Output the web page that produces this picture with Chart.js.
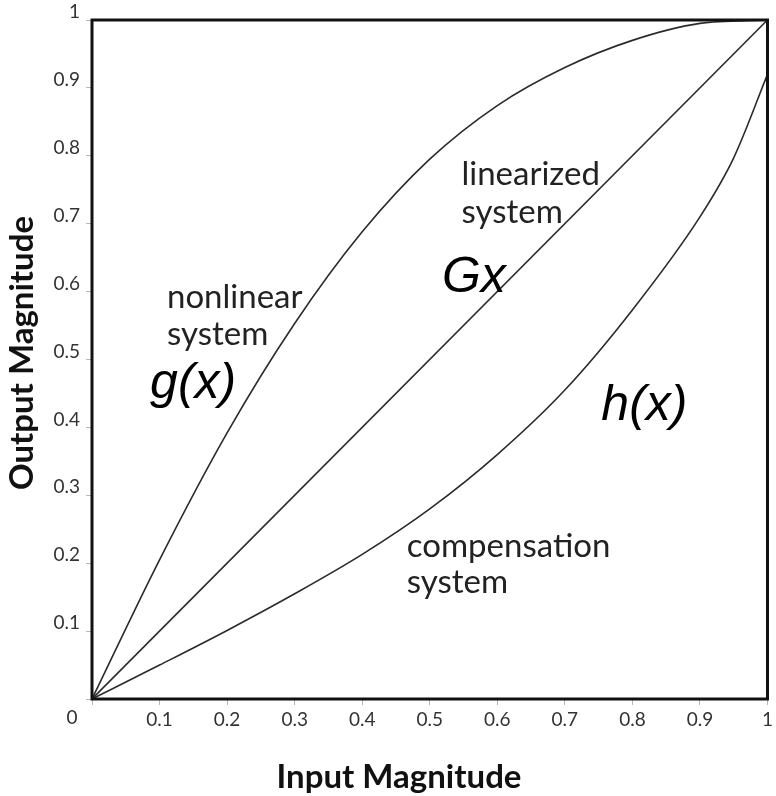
<!DOCTYPE html>
<html>
<head>
<meta charset="utf-8">
<script src="https://cdn.jsdelivr.net/npm/chart.js@4.4.1/dist/chart.umd.min.js"></script>
<style>
  body { margin: 0; background: #fff; }
  #grafica { display: block; }
</style>
</head>
<body>
<canvas id="grafica" width="776" height="796"></canvas>
<script>
// curvas: sistema no lineal g(x), linealizado Gx y compensacion h(x)
const entradaG = [0, 0.10, 0.20, 0.30, 0.40, 0.50, 0.60, 0.70, 0.80, 0.90, 1.0];
const salidaG  = [0, 0.205, 0.392, 0.553, 0.688, 0.795, 0.874, 0.930, 0.970, 0.995, 1.0];

const entradaLineal = [0, 1];
const salidaLineal  = [0, 1];

const entradaH = [0, 0.10, 0.20, 0.30, 0.40, 0.50, 0.60, 0.70, 0.80, 0.90, 0.95, 1.0];
const salidaH  = [0, 0.05, 0.101, 0.155, 0.213, 0.28, 0.36, 0.455, 0.573, 0.71, 0.797, 0.92];

const etiquetasTicks = ['0', '0.1', '0.2', '0.3', '0.4', '0.5', '0.6', '0.7', '0.8', '0.9', '1'];

const tituloX = 'Input Magnitude';
const tituloY = 'Output Magnitude';

// textos dentro de la grafica, anclados en coordenadas de datos
const notas = [
  { texto: 'nonlinear', x: 0.111, y: 0.576, tipo: 'normal' },
  { texto: 'system', x: 0.111, y: 0.521, tipo: 'normal' },
  { texto: 'g(x)', x: 0.086, y: 0.443, tipo: 'formula' },
  { texto: 'linearized', x: 0.547, y: 0.757, tipo: 'normal' },
  { texto: 'system', x: 0.547, y: 0.701, tipo: 'normal' },
  { texto: 'Gx', x: 0.518, y: 0.599, tipo: 'formula' },
  { texto: 'h(x)', x: 0.754, y: 0.411, tipo: 'formula' },
  { texto: 'compensation', x: 0.466, y: 0.209, tipo: 'normal' },
  { texto: 'system', x: 0.466, y: 0.156, tipo: 'normal' }
];

const aPuntos = (xs, ys) => xs.map((x, i) => ({ x: x, y: ys[i] }));

const estiloLinea = {
  showLine: true,
  borderColor: '#2b2b2b',
  borderWidth: 1.6,
  pointRadius: 0,
  fill: false
};

const marcoYTextos = {
  id: 'marcoYTextos',
  afterDatasetsDraw(chart) {
    const { ctx, chartArea, scales } = chart;
    ctx.save();

    // marco negro alrededor del area
    ctx.strokeStyle = '#111';
    ctx.lineWidth = 3;
    ctx.strokeRect(chartArea.left, chartArea.top,
      chartArea.right - chartArea.left, chartArea.bottom - chartArea.top);

    // notas
    ctx.textAlign = 'left';
    ctx.textBaseline = 'alphabetic';
    notas.forEach(n => {
      if (n.tipo === 'formula') {
        ctx.font = 'italic 50px "Liberation Sans", Arial, sans-serif';
        ctx.fillStyle = '#000';
      } else {
        ctx.font = '33px Lato, sans-serif';
        ctx.fillStyle = '#222';
      }
      ctx.fillText(n.texto, scales.x.getPixelForValue(n.x), scales.y.getPixelForValue(n.y));
    });

    // cero compartido en la esquina
    ctx.font = '19px Lato, sans-serif';
    ctx.fillStyle = '#333';
    ctx.textAlign = 'center';
    ctx.textBaseline = 'middle';
    ctx.fillText(etiquetasTicks[0], chartArea.left - 20, chartArea.bottom + 19);

    // titulos de los ejes
    ctx.font = 'bold 33px Lato, sans-serif';
    ctx.fillStyle = '#111';
    ctx.fillText(tituloX, 399, 777);
    ctx.translate(22, 353);
    ctx.rotate(-Math.PI / 2);
    ctx.fillText(tituloY, 0, 0);

    ctx.restore();
  }
};

const ejeComun = {
  type: 'linear',
  min: 0,
  max: 1,
  grid: {
    drawOnChartArea: false,
    tickLength: 6,
    color: '#b5b5b5',
    lineWidth: 1
  },
  border: { display: false },
  ticks: {
    stepSize: 0.1,
    color: '#333',
    font: { family: 'Lato', size: 19 },
    callback: (valor, indice) => indice === 0 ? '' : etiquetasTicks[indice]
  }
};

const ctxGrafica = document.getElementById('grafica').getContext('2d');
new Chart(ctxGrafica, {
  type: 'scatter',
  data: {
    datasets: [
      { ...estiloLinea, label: 'g(x)', data: aPuntos(entradaG, salidaG), cubicInterpolationMode: 'monotone' },
      { ...estiloLinea, label: 'Gx', data: aPuntos(entradaLineal, salidaLineal) },
      { ...estiloLinea, label: 'h(x)', data: aPuntos(entradaH, salidaH), cubicInterpolationMode: 'monotone' }
    ]
  },
  options: {
    responsive: false,
    animation: false,
    layout: { padding: { top: 20, right: 6, left: 0, bottom: 0 } },
    scales: {
      x: {
        ...ejeComun,
        ticks: { ...ejeComun.ticks, padding: 3, maxRotation: 0 },
        afterFit: (escala) => { escala.height = 97; }
      },
      y: {
        ...ejeComun,
        ticks: { ...ejeComun.ticks, padding: 6, labelOffset: -8 },
        afterFit: (escala) => { escala.width = 92; }
      }
    },
    plugins: {
      legend: { display: false },
      tooltip: { enabled: false }
    }
  },
  plugins: [marcoYTextos]
});
</script>
</body>
</html>
